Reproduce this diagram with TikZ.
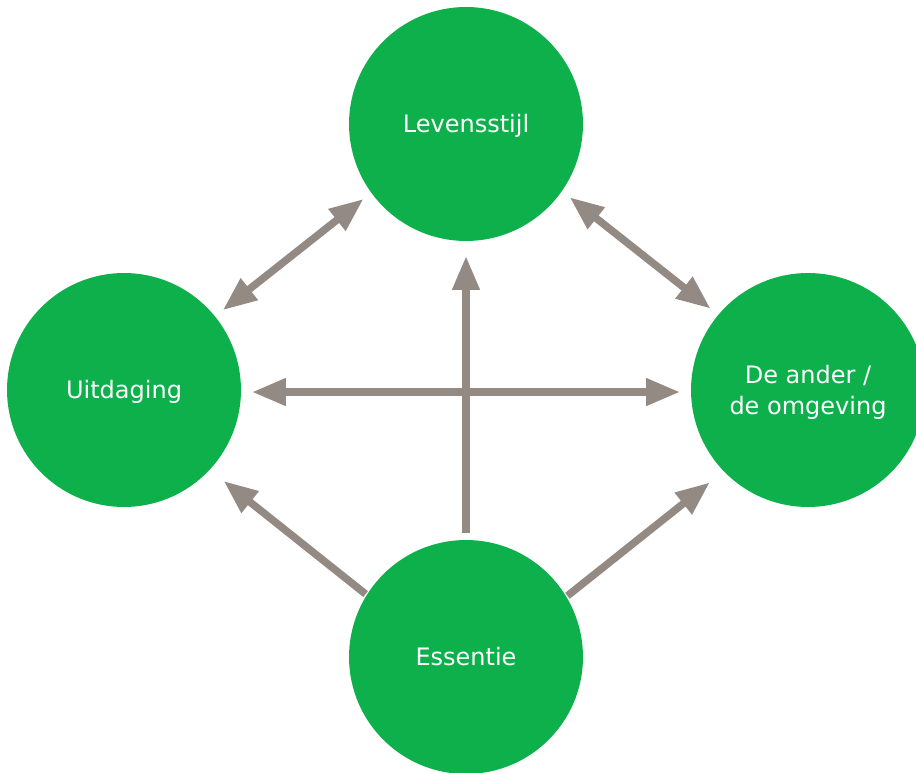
\documentclass[tikz,border=0pt]{standalone}
\usepackage{fontspec}
\setmainfont{DejaVu Sans}
\usepackage{tikz}
\usetikzlibrary{arrows.meta,calc}
\definecolor{bolgroen}{HTML}{0DB04B}
\definecolor{pijlgrijs}{HTML}{948A84}

\begin{document}
\begin{tikzpicture}[x=0.02cm,y=-0.02cm,
  bol/.style={circle,fill=bolgroen,text=white,minimum size=4.68cm,inner sep=0pt,outer sep=0pt,align=center,
    text height=10pt,text depth=0pt,font=\fontsize{13.66}{17.5}\selectfont},
  pijl/.style={draw=pijlgrijs,line width=0.15cm,-{Triangle[length=0.68cm,width=0.52cm]}},
  dubbelpijl/.style={pijl,{Triangle[length=0.68cm,width=0.52cm]}-{Triangle[length=0.68cm,width=0.52cm]}}]
\useasboundingbox (0,0) rectangle (916,773);
\node[bol] (lev) at (466,124) {Levensstijl};
\node[bol] (uit) at (124,390) {Uitdaging};
\node[bol,text height=27.5pt] (der) at (808,390) {De ander /\\de omgeving};
\node[bol] (ess) at (466,657) {Essentie};
\draw[dubbelpijl,shorten <=0.2cm,shorten >=0.2cm] (lev.-144.5) -- (uit.39.7);
\draw[dubbelpijl,shorten <=0.2cm,shorten >=0.2cm] (lev.-35.5) -- (der.140.3);
\draw[dubbelpijl,shorten <=0.22cm,shorten >=0.22cm] (uit.-1.5) -- (der.181.5);
\draw[pijl,shorten <=0.14cm,shorten >=0.3cm] (ess.north) -- (lev.south);
\draw[pijl,shorten <=0.03cm,shorten >=0.36cm] (ess.148.5) -- (uit.-43.6);
\draw[pijl,shorten <=0.03cm,shorten >=0.36cm] (ess.31.5) -- (der.-136.4);
\end{tikzpicture}
\end{document}
